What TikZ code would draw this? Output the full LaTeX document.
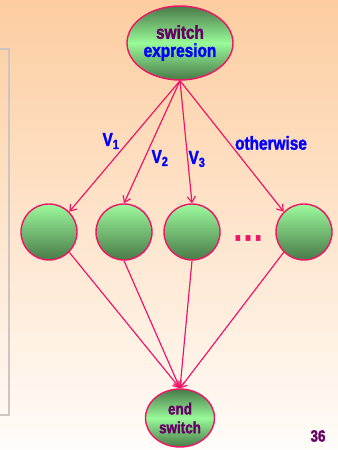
\documentclass[tikz,border=0pt]{standalone}
\usepackage{fontspec}
\setmainfont{Liberation Sans}[FakeStretch=0.82, BoldFeatures={FakeBold=1.6}]
\usepackage{tikz}
\usetikzlibrary{shapes.geometric, arrows.meta, positioning}
\definecolor{myline}{RGB}{240,20,100}
\definecolor{mypurple}{RGB}{102,0,102}
\definecolor{myblue}{RGB}{0,0,255}
\definecolor{lightgrn}{RGB}{152,250,152}
\definecolor{darkgrn}{RGB}{72,122,72}
\definecolor{bgtop}{RGB}{253,205,160}
\definecolor{bgbot}{RGB}{255,252,249}
\definecolor{mgframe}{RGB}{205,198,192}
\tikzset{
  swoval/.style={ellipse, draw=myline, line width=1.2pt, inner sep=0pt,
    top color=darkgrn, bottom color=darkgrn, middle color=lightgrn,
    align=center, font=\fontsize{16}{15.5}\selectfont\bfseries},
  caseball/.style={circle, draw=myline, line width=1.2pt, minimum size=1.68cm,
    top color=lightgrn!95!white, bottom color=darkgrn},
  vlabel/.style={font=\fontsize{16}{16}\selectfont\bfseries, text=myblue},
  flow/.style={-{Straight Barb[length=5pt,width=7pt]}, color=myline, line width=1pt}
}
\begin{document}
\begin{tikzpicture}[x=0.03cm, y=-0.03cm]
  % --- BACKGROUND ---
  \useasboundingbox (0,0) rectangle (338,450);
  \fill[top color=bgtop, bottom color=bgbot] (0,0) rectangle (338,450);
  \draw[color=mgframe, line width=0.06cm] (0,49) -- (9,49) -- (9,415) -- (0,415);

  % --- SWITCH NODES ---
  \node[swoval, minimum width=3.18cm, minimum height=2.22cm] (sw) at (180,43)
    {\textcolor{mypurple}{switch}\\\textcolor{myblue}{expresion}};
  \node[swoval, minimum width=2.07cm, minimum height=1.74cm,
    font=\fontsize{14}{16}\selectfont\bfseries, text=mypurple] (esw) at (180,418)
    {end\\switch};

  % --- CASE NODES ---
  \node[caseball] (c1) at (49,232) {};
  \node[caseball] (c2) at (124,232) {};
  \node[caseball] (c3) at (192,232) {};
  \node[caseball] (c4) at (304,232) {};
  \node[font=\fontsize{30}{30}\selectfont\bfseries, text=myline] (dots) at (248,238)
    {.\kern1.8pt.\kern1.8pt.};

  % --- BRANCHES ---
  \draw[flow] (sw.south) -- (c1.45);
  \draw[flow] (sw.south) -- (c2.north);
  \draw[flow] (sw.south) -- (c3.north);
  \draw[flow] (sw.south) -- (c4.135);
  \node[vlabel] (v1) at (111,141) {V\textsubscript{1}};
  \node[vlabel] (v2) at (160,158) {V\textsubscript{2}};
  \node[vlabel] (v3) at (197,159) {V\textsubscript{3}};
  \node[vlabel] (vo) at (271,143) {otherwise};

  % --- MERGE ---
  \draw[flow] (c1.-45) -- (esw.north);
  \draw[flow] (c2.south) -- (esw.north);
  \draw[flow] (c3.south) -- (esw.north);
  \draw[flow] (c4.-135) -- (esw.north);

  \node[font=\fontsize{14}{14}\selectfont\bfseries, text=mypurple] (pg) at (318,436) {36};
\end{tikzpicture}
\end{document}
